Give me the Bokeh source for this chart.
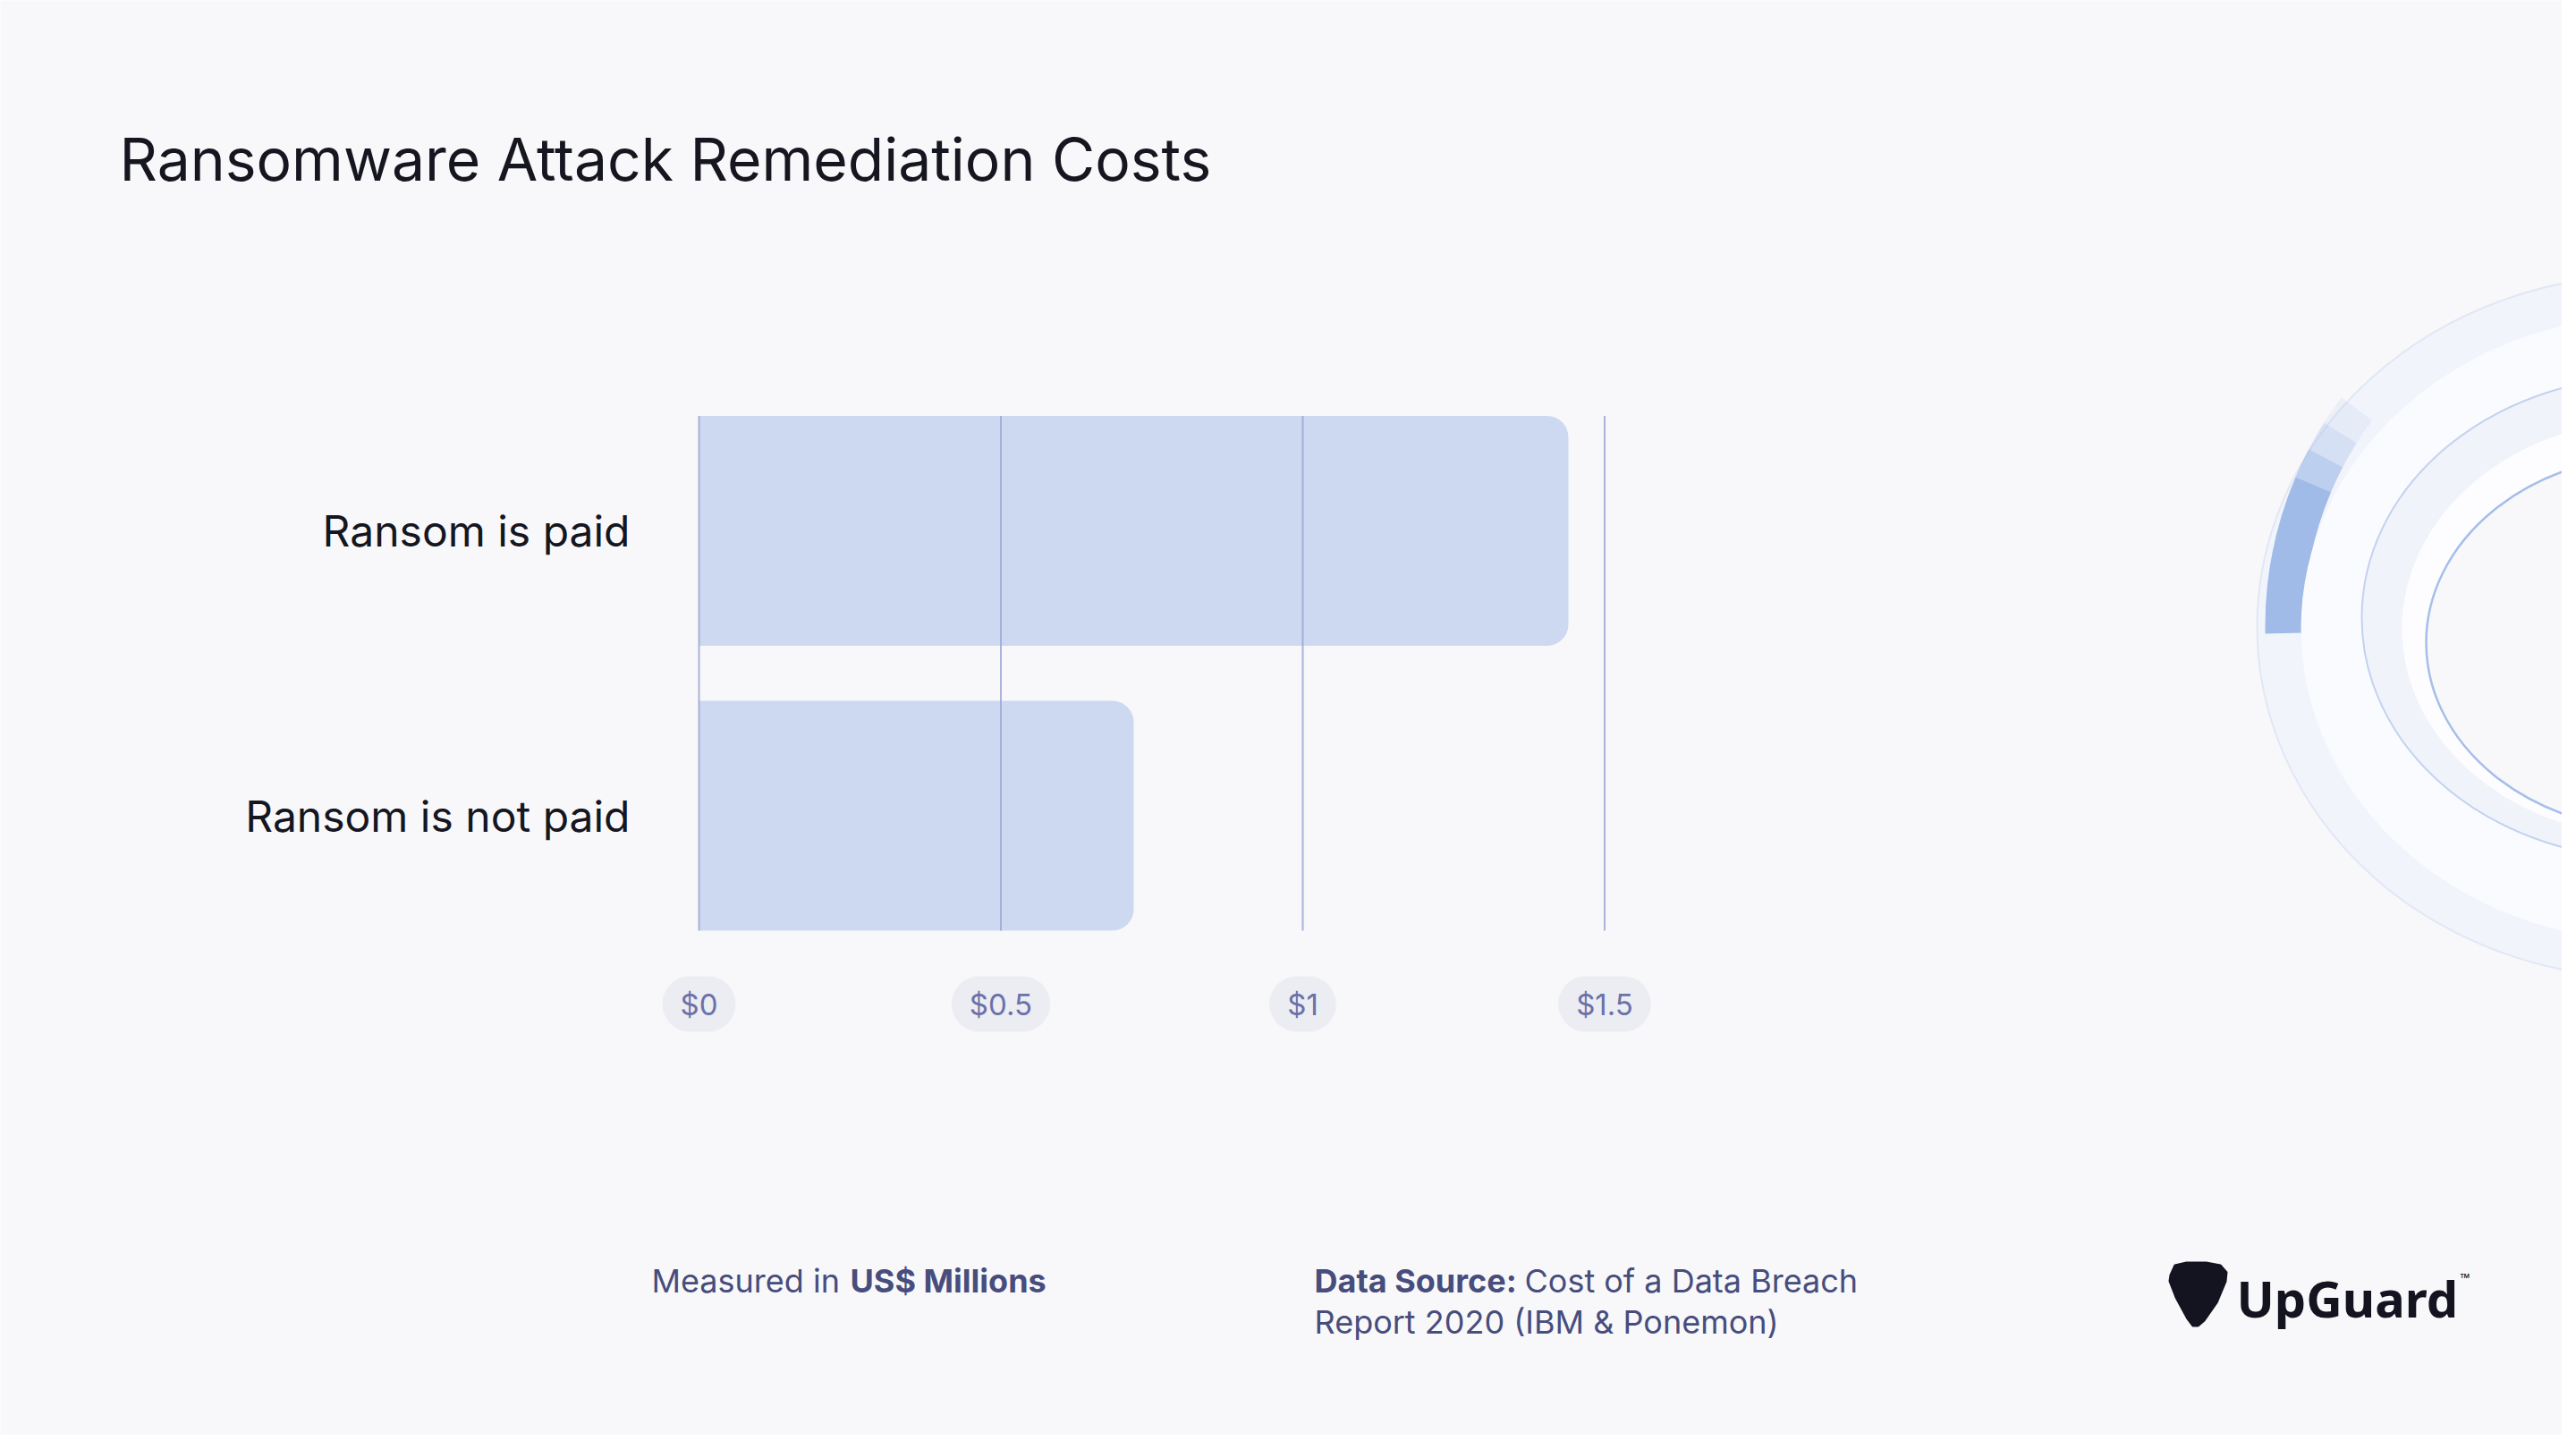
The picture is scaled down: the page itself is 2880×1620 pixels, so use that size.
from bokeh.plotting import figure
from bokeh.models import Range1d, LinearAxis, FixedTicker, Label, ColumnDataSource
from bokeh.core.properties import value
from bokeh.embed import file_html
from bokeh.resources import INLINE

# data (US$ millions)
title = "Ransomware Attack Remediation Costs"
categories = ["Ransom is paid", "Ransom is not paid"]
costs = [1.44, 0.72]
tick_values = [0, 0.5, 1, 1.5]
tick_labels = ["$0", "$0.5", "$1", "$1.5"]

BG = "#f8f8fa"
BAR = "#cdd9f0"
INK = "#15161f"
SLATE = "#474d7c"

W, H = 2864, 1604
# where the bar area sits on the canvas (pixels)
X_ZERO = 781
PX_PER_UNIT = 675
Y_FIRST = 593
BAND = 318.5
BAR_H = 0.807

n = len(categories)
ys = [n - 1 - i for i in range(n)]
x_start = -X_ZERO / PX_PER_UNIT
x_end = x_start + W / PX_PER_UNIT
y_end = (n - 1) + Y_FIRST / BAND
y_start = y_end - H / BAND

p = figure(width=W, height=H, x_range=Range1d(x_start, x_end),
           y_range=Range1d(y_start, y_end), x_axis_location=None,
           y_axis_location=None, tools="", toolbar_location=None,
           output_backend="svg", min_border=0, outline_line_color=None,
           background_fill_color=BG, border_fill_color=BG)
p.title.visible = False
p.grid.visible = False
# pixel ranges for the decorations (y grows downwards)
p.extra_x_ranges["px"] = Range1d(0, W)
p.extra_y_ranges["px"] = Range1d(H, 0)
PX = dict(x_range_name="px", y_range_name="px")

# --- decorative ring on the right edge
p.ellipse(x=2960, y=700, width=874, height=786, fill_color="#f1f4fb",
          line_color="#e1e7f5", line_width=2, **PX)
# blue highlight fading towards the top
p.annular_wedge(x=2960, y=700, inner_radius=385, outer_radius=428,
                start_angle=[2.50, 2.58, 2.66, 2.74],
                end_angle=[2.58, 2.66, 2.74, 3.16],
                fill_alpha=[0.15, 0.35, 0.65, 1.0],
                fill_color="#a0bbe7", line_color=None, **PX)
p.ellipse(x=2965, y=702, width=786, height=700, fill_color="#fafbfe",
          line_color=None, **PX)
p.ellipse(x=2965, y=690, width=650, height=540, fill_color="#f0f3fa",
          line_color="#c3d2ef", line_width=2, **PX)
p.ellipse(x=2968, y=702, width=566, height=468, fill_color="#fdfdff",
          line_color=None, **PX)
p.ellipse(x=2972, y=718, width=520, height=420, fill_color=BG,
          line_color="#a6bee9", line_width=2.5, **PX)

# --- bars and grid
src = ColumnDataSource(dict(cat=categories, y=ys, cost=costs))
p.hbar(y="y", left=0, right="cost", height=BAR_H, source=src,
       fill_color=BAR, line_color=None, border_radius=(0, 24, 24, 0))

g_lo = min(ys) - BAR_H / 2
g_hi = max(ys) + BAR_H / 2
p.segment(x0=tick_values, x1=tick_values, y0=[g_lo] * len(tick_values),
          y1=[g_hi] * len(tick_values), line_color="#9ea7d4", line_width=2,
          line_alpha=0.85)

yax = LinearAxis(fixed_location=0, ticker=FixedTicker(ticks=ys),
                 major_label_overrides={y: c for y, c in zip(ys, categories)},
                 axis_line_color=None, major_tick_line_color=None,
                 minor_tick_line_color=None, major_tick_out=0, major_tick_in=0,
                 major_label_standoff=77, major_label_text_font="Inter",
                 major_label_text_font_size="48px",
                 major_label_text_color=INK)
p.add_layout(yax, "left")

# tick labels in pills
p.text(x=tick_values, y=[1122] * len(tick_values), text=tick_labels,
       text_align="center", text_baseline="middle", text_font=value("Inter"),
       text_font_size="33px", text_color="#6b72a8",
       background_fill_color="#ececf3", padding=(20, 11), border_radius=31,
       y_range_name="px")

# --- texts
p.add_layout(Label(x=133, y=177, text=title, text_font="Inter",
                   text_font_size="66px", text_color=INK,
                   text_baseline="alphabetic", **PX))

foot = dict(text_font="Inter", text_font_size="36px", text_color=SLATE,
            text_baseline="alphabetic", **PX)
p.add_layout(Label(x=728, y=1431, text="Measured in", **foot))
p.add_layout(Label(x=950, y=1431, text="US$ Millions", text_font_style="bold", **foot))
p.add_layout(Label(x=1469, y=1431, text="Data Source:", text_font_style="bold", **foot))
p.add_layout(Label(x=1704, y=1431, text="Cost of a Data Breach", **foot))
p.add_layout(Label(x=1469, y=1477, text="Report 2020 (IBM & Ponemon)", **foot))

# --- logo
p.patch(x=[2426, 2431, 2444, 2466, 2482, 2489, 2488, 2478, 2464, 2457,
           2451, 2445, 2432, 2425],
        y=[1425, 1414, 1411, 1411, 1414, 1422, 1432, 1456, 1476, 1482,
           1482, 1474, 1450, 1432],
        fill_color="#13141f", line_color="#13141f", line_width=2, **PX)
p.add_layout(Label(x=2500, y=1450, text="UpGuard", text_font="Noto Sans",
                   text_font_style="bold", text_font_size="56px",
                   text_color="#13141f", text_baseline="alphabetic", **PX))
p.add_layout(Label(x=2750, y=1428, text="™", text_font="Noto Sans",
                   text_font_size="14px", text_color="#13141f",
                   text_baseline="alphabetic", **PX))

open("out.html", "w").write(file_html(p, INLINE))
